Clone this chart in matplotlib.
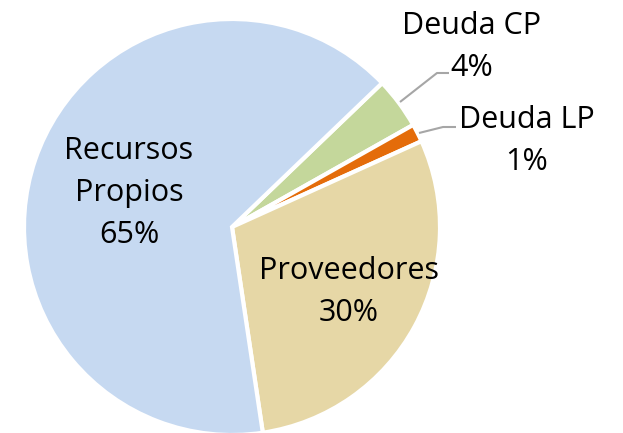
import matplotlib
matplotlib.use("Agg")
import matplotlib.pyplot as plt

categories = ["Deuda CP", "Deuda LP", "Proveedores", "Recursos\nPropios"]
values = [4.0, 1.4, 29.4, 65.2]
pct_labels = ["4%", "1%", "30%", "65%"]
colors = ["#C4D79B", "#E46C0A", "#E6D7A6", "#C6D9F1"]

fig = plt.figure(figsize=(6.23, 4.33), dpi=100)
ax = fig.add_axes([0, 0, 1, 1])

ax.pie(values, colors=colors, startangle=43.8, counterclock=False,
       radius=1.0, center=(0, 0), frame=True,
       wedgeprops=dict(edgecolor="white", linewidth=3, joinstyle="miter"))
ax.set_xlim(-232 / 208, (623 - 232) / 208)
ax.set_ylim(-(433 - 227) / 208, 227 / 208)
ax.set_aspect("equal")
ax.axis("off")

def px(x, y):
    return ((x - 232) / 208, (227 - y) / 208)

font = dict(family=["Open Sans", "DejaVu Sans"], fontsize=22, color="black",
            ha="center", va="center", linespacing=1.52)

ax.text(*px(129, 193), categories[3] + "\n" + pct_labels[3], **font)
ax.text(*px(349, 292), categories[2] + "\n" + pct_labels[2], **font)
ax.text(*px(472, 47), categories[0] + "\n" + pct_labels[0], **font)
ax.text(*px(527, 141), categories[1] + "\n" + pct_labels[1], **font)

# leader lines
for pts in ([(400, 102), (437, 73), (449, 73)], [(419, 133), (443, 127), (456, 127)]):
    xs, ys = zip(*[px(*p) for p in pts])
    ax.plot(xs, ys, color="#A6A6A6", lw=1.5, solid_capstyle="butt")

fig.savefig("out.png", dpi=100)
